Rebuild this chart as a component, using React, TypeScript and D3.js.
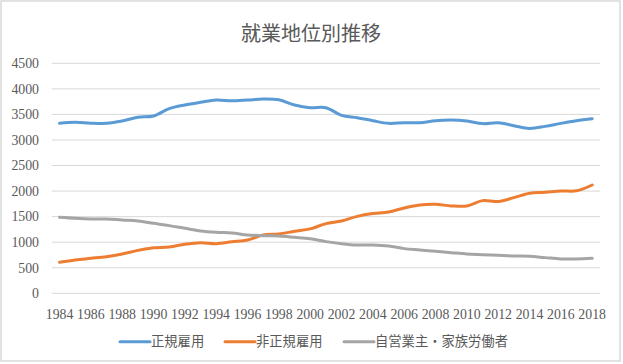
import React from 'react';
import * as d3 from 'd3';

const years = d3.range(1984, 2019).map(String);

const regular = [
  3325, 3345, 3328, 3325, 3370, 3443, 3470, 3612, 3684, 3736, 3781, 3765, 3781, 3800, 3785, 3684, 3630,
  3632, 3482, 3436, 3377, 3325, 3338, 3338, 3377, 3390, 3370, 3320, 3338, 3280, 3225, 3266, 3325, 3377, 3416,
];
const nonRegular = [
  606, 652, 684, 717, 769, 840, 890, 905, 960, 990, 971, 1008, 1043, 1140, 1161, 1213, 1260,
  1363, 1415, 1505, 1560, 1591, 1670, 1728, 1741, 1710, 1708, 1813, 1795, 1871, 1956, 1976, 2002, 2005, 2119,
];
const selfEmployed = [
  1487, 1467, 1454, 1454, 1434, 1415, 1369, 1324, 1271, 1219, 1193, 1180, 1141, 1128, 1121, 1095, 1066,
  1011, 971, 945, 945, 926, 874, 848, 822, 795, 769, 756, 743, 730, 724, 698, 672, 672, 684,
];

const seriesNames = ['正規雇用', '非正規雇用', '自営業主・家族労働者'];
const seriesColors = ['#5B9BD5', '#ED7D31', '#A5A5A5'];
const yTicks = d3.range(0, 4501, 500);

const W = 623;
const H = 364;
const font = "'Liberation Serif', 'Times New Roman', 'Noto Sans CJK JP', serif";

const App: React.FC = () => {
  const x = d3.scalePoint<string>().domain(years).range([51.7, 600]).padding(0.5);
  const y = d3.scaleLinear().domain([0, 4500]).range([293.3, 63.3]);

  const line = d3
    .line<number>()
    .x((_, i) => x(years[i]) || 0)
    .y((d) => y(d))
    .curve(d3.curveCatmullRom.alpha(0.5));

  const series = [regular, nonRegular, selfEmployed];
  const legendX = [120, 225, 344];

  return (
    <svg
      width={W}
      height={H}
      style={{ position: 'absolute', left: 0, top: 0, background: '#fff', fontFamily: font }}
    >
      <rect x={1} y={1} width={619} height={360} fill="#fff" stroke="#D9D9D9" strokeWidth={1.5} />
      <text x={311} y={41} textAnchor="middle" fontSize={20} fill="#595959">
        就業地位別推移
      </text>

      {yTicks.map((t) => (
        <g key={t}>
          <line x1={51.7} x2={600} y1={y(t)} y2={y(t)} stroke="#D9D9D9" strokeWidth={1} />
          <text x={39} y={y(t)} dy="0.35em" textAnchor="end" fontSize={13.8} fill="#595959">
            {t}
          </text>
        </g>
      ))}

      {years.map((yr, i) =>
        i % 2 === 0 ? (
          <text key={yr} x={x(yr)} y={319} textAnchor="middle" fontSize={13.8} fill="#595959">
            {yr}
          </text>
        ) : null
      )}

      {series.map((s, i) => (
        <path
          key={seriesNames[i]}
          d={line(s) || ''}
          fill="none"
          stroke={seriesColors[i]}
          strokeWidth={3}
          strokeLinecap="round"
          strokeLinejoin="round"
        />
      ))}

      {seriesNames.map((name, i) => (
        <g key={name}>
          <line
            x1={legendX[i]}
            x2={legendX[i] + 30}
            y1={341.7}
            y2={341.7}
            stroke={seriesColors[i]}
            strokeWidth={3}
            strokeLinecap="round"
          />
          <text x={legendX[i] + 31} y={341.7} dy="0.35em" fontSize={13.3} fill="#595959">
            {name}
          </text>
        </g>
      ))}
    </svg>
  );
};

export default App;
